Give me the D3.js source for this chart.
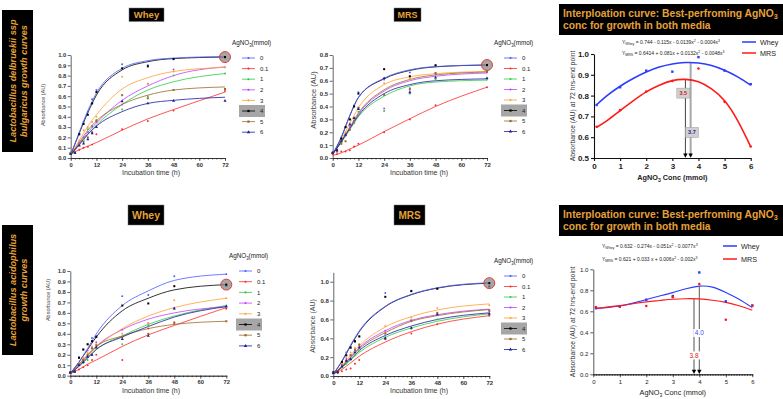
<!DOCTYPE html>
<html>
<head>
<meta charset="utf-8">
<script src="https://cdn.jsdelivr.net/npm/d3@7"></script>
<style>
  body { margin: 0; background: #fff; }
  svg { font-family: "Liberation Sans", Arial, sans-serif; }
</style>
</head>
<body>
<svg id="fig" width="783" height="399"></svg>
<script>
// ---- data ----
const concLabels = ["0", "0.1", "1", "2", "3", "4", "5", "6"];
const seriesColors = ["#4a5cff", "#ff2a2a", "#2ecc40", "#c040ff", "#ffa030", "#000000", "#9a6a2a", "#1c1ca0"];
const obsTimes = [0, 2, 4, 6, 8, 10, 12, 24, 36, 48, 72];
const fitTimes = [0, 4, 8, 12, 24, 36, 48, 72];
const timeTicks = [0, 12, 24, 36, 48, 60, 72];
// curves are drawn in this order so the blue "0" curve sits on top of the black "4" one
const drawOrder = [1, 2, 3, 4, 6, 7, 5, 0];

// L. bulgaricus, whey
const lbWheyFit = [
  [0.03, 0.25, 0.46, 0.63, 0.87, 0.945, 0.97, 0.985],
  [0.04, 0.08, 0.115, 0.15, 0.27, 0.38, 0.47, 0.64],
  [0.03, 0.13, 0.23, 0.32, 0.52, 0.66, 0.74, 0.82],
  [0.03, 0.14, 0.25, 0.34, 0.56, 0.70, 0.80, 0.885],
  [0.03, 0.17, 0.31, 0.42, 0.67, 0.78, 0.84, 0.88],
  [0.03, 0.24, 0.44, 0.61, 0.855, 0.935, 0.965, 0.98],
  [0.03, 0.15, 0.27, 0.36, 0.52, 0.61, 0.66, 0.69],
  [0.03, 0.13, 0.23, 0.31, 0.45, 0.53, 0.56, 0.59]
];
const lbWheyObs = [
  [0.05, 0.06, 0.24, 0.35, 0.45, 0.57, 0.66, 0.91, 0.90, 0.965, 0.98],
  [0.05, 0.06, 0.08, 0.10, 0.11, 0.13, 0.23, 0.28, 0.36, 0.46, 0.65],
  [0.05, 0.05, 0.14, 0.18, 0.28, 0.30, 0.37, 0.47, 0.60, 0.80, 0.82],
  [0.04, 0.05, 0.15, 0.20, 0.25, 0.31, 0.35, 0.52, 0.72, 0.86, 0.88],
  [0.04, 0.06, 0.17, 0.27, 0.30, 0.35, 0.40, 0.79, 0.72, 0.84, 0.88],
  [0.04, 0.05, 0.23, 0.33, 0.42, 0.53, 0.64, 0.87, 0.89, 0.96, 0.975],
  [0.04, 0.05, 0.13, 0.16, 0.20, 0.25, 0.36, 0.61, 0.58, 0.66, 0.67],
  [0.04, 0.05, 0.12, 0.14, 0.18, 0.24, 0.30, 0.55, 0.53, 0.555, 0.555]
];

// L. bulgaricus, MRS
const lbMrsFit = [
  [0.03, 0.16, 0.33, 0.47, 0.62, 0.685, 0.71, 0.723],
  [0.02, 0.04, 0.07, 0.10, 0.205, 0.305, 0.40, 0.55],
  [0.03, 0.12, 0.22, 0.32, 0.48, 0.56, 0.59, 0.605],
  [0.03, 0.13, 0.23, 0.34, 0.52, 0.60, 0.635, 0.66],
  [0.03, 0.14, 0.27, 0.39, 0.57, 0.63, 0.655, 0.672],
  [0.03, 0.16, 0.33, 0.47, 0.615, 0.68, 0.708, 0.722],
  [0.03, 0.13, 0.24, 0.35, 0.53, 0.61, 0.645, 0.668],
  [0.03, 0.125, 0.23, 0.33, 0.50, 0.57, 0.60, 0.615]
];
const lbMrsObs = [
  [0.04, 0.06, 0.16, 0.24, 0.30, 0.41, 0.51, 0.61, 0.665, 0.72, 0.72],
  [0.03, 0.03, 0.05, 0.05, 0.06, 0.09, 0.11, 0.20, 0.30, 0.41, 0.55],
  [0.04, 0.06, 0.12, 0.17, 0.22, 0.27, 0.36, 0.365, 0.50, 0.61, 0.61],
  [0.04, 0.06, 0.13, 0.18, 0.24, 0.28, 0.38, 0.385, 0.53, 0.65, 0.665],
  [0.04, 0.06, 0.14, 0.20, 0.27, 0.31, 0.39, 0.58, 0.62, 0.66, 0.67],
  [0.04, 0.06, 0.15, 0.24, 0.30, 0.40, 0.50, 0.69, 0.635, 0.72, 0.72],
  [0.04, 0.05, 0.11, 0.13, 0.22, 0.29, 0.39, 0.49, 0.54, 0.66, 0.67],
  [0.04, 0.06, 0.13, 0.18, 0.26, 0.31, 0.38, 0.62, 0.51, 0.625, 0.62]
];

// L. acidophilus, whey
const laWheyFit = [
  [0.02, 0.13, 0.26, 0.40, 0.67, 0.81, 0.91, 0.97],
  [0.02, 0.06, 0.11, 0.15, 0.28, 0.39, 0.48, 0.65],
  [0.02, 0.09, 0.17, 0.25, 0.38, 0.49, 0.57, 0.67],
  [0.02, 0.10, 0.19, 0.28, 0.44, 0.54, 0.60, 0.66],
  [0.02, 0.10, 0.19, 0.27, 0.45, 0.57, 0.65, 0.74],
  [0.02, 0.13, 0.25, 0.37, 0.62, 0.74, 0.82, 0.87],
  [0.02, 0.11, 0.20, 0.28, 0.38, 0.45, 0.49, 0.52],
  [0.02, 0.09, 0.17, 0.25, 0.37, 0.47, 0.56, 0.66]
];
const laWheyObs = [
  [0.03, 0.04, 0.18, 0.25, 0.30, 0.36, 0.38, 0.76, 0.77, 0.95, 0.97],
  [0.03, 0.04, 0.06, 0.08, 0.10, 0.15, 0.20, 0.15, 0.45, 0.51, 0.64],
  [0.03, 0.04, 0.10, 0.12, 0.15, 0.20, 0.26, 0.30, 0.48, 0.64, 0.67],
  [0.03, 0.04, 0.12, 0.16, 0.24, 0.27, 0.32, 0.44, 0.50, 0.65, 0.66],
  [0.03, 0.04, 0.12, 0.17, 0.22, 0.28, 0.30, 0.40, 0.50, 0.72, 0.74],
  [0.03, 0.04, 0.17, 0.25, 0.30, 0.33, 0.37, 0.67, 0.69, 0.855, 0.86],
  [0.03, 0.04, 0.11, 0.15, 0.20, 0.26, 0.29, 0.37, 0.40, 0.50, 0.52],
  [0.03, 0.04, 0.10, 0.13, 0.18, 0.20, 0.27, 0.35, 0.38, 0.64, 0.66]
];

// L. acidophilus, MRS
const laMrsFit = [
  [0.02, 0.16, 0.33, 0.48, 0.74, 0.866, 0.936, 0.99],
  [0.02, 0.07, 0.14, 0.21, 0.36, 0.47, 0.55, 0.64],
  [0.02, 0.09, 0.17, 0.25, 0.41, 0.51, 0.58, 0.66],
  [0.02, 0.10, 0.20, 0.30, 0.48, 0.59, 0.65, 0.71],
  [0.02, 0.11, 0.22, 0.32, 0.52, 0.63, 0.70, 0.765],
  [0.02, 0.155, 0.32, 0.47, 0.735, 0.862, 0.932, 0.985],
  [0.02, 0.10, 0.20, 0.29, 0.46, 0.58, 0.64, 0.705],
  [0.02, 0.095, 0.18, 0.27, 0.43, 0.53, 0.60, 0.67]
];
const laMrsObs = [
  [0.04, 0.05, 0.14, 0.25, 0.31, 0.36, 0.42, 0.88, 0.905, 0.93, 0.95],
  [0.03, 0.03, 0.05, 0.07, 0.08, 0.13, 0.17, 0.39, 0.45, 0.55, 0.64],
  [0.03, 0.04, 0.09, 0.13, 0.17, 0.22, 0.27, 0.41, 0.50, 0.60, 0.66],
  [0.03, 0.05, 0.12, 0.18, 0.22, 0.27, 0.31, 0.48, 0.58, 0.66, 0.70],
  [0.03, 0.05, 0.13, 0.20, 0.25, 0.30, 0.34, 0.53, 0.62, 0.72, 0.75],
  [0.04, 0.05, 0.15, 0.22, 0.30, 0.37, 0.42, 0.84, 0.90, 0.925, 0.95],
  [0.03, 0.05, 0.11, 0.16, 0.22, 0.28, 0.33, 0.45, 0.59, 0.67, 0.69],
  [0.03, 0.04, 0.10, 0.16, 0.18, 0.25, 0.30, 0.40, 0.51, 0.65, 0.66]
];

// interpolation panels: end point (72 h) absorbance vs AgNO3
const endConc = [0.1, 1, 2, 3, 4, 5, 6];
const lbWheyEnd = [0.755, 0.84, 0.92, 0.915, 0.985, 0.92, 0.855];
const lbMrsEnd = [0.65, 0.73, 0.82, 0.87, 0.93, 0.77, 0.555];
const laWheyEnd = [0.63, 0.645, 0.71, 0.745, 0.97, 0.695, 0.655];
const laMrsEnd = [0.64, 0.645, 0.65, 0.735, 0.86, 0.52, 0.655];

const curveConc = [0.1, 0.5, 1, 1.5, 2, 2.5, 3, 3.5, 4, 4.5, 5, 5.5, 6];
const lbWheyCurve = [0.756, 0.80, 0.845, 0.882, 0.913, 0.937, 0.952, 0.959, 0.957, 0.945, 0.922, 0.89, 0.85];
const lbMrsCurve = [0.648, 0.68, 0.728, 0.775, 0.818, 0.85, 0.872, 0.878, 0.866, 0.832, 0.775, 0.68, 0.555];
const laWheyCurve = [0.628, 0.635, 0.65, 0.678, 0.712, 0.745, 0.778, 0.815, 0.84, 0.83, 0.78, 0.715, 0.635];
const laMrsCurve = [0.625, 0.64, 0.655, 0.672, 0.69, 0.703, 0.715, 0.72, 0.718, 0.705, 0.685, 0.652, 0.61];

const gold = "#e5a13a";
const svg = d3.select("#fig");

// text with sub/superscripts: parts = [[string, "sub"|"sup"|""]]
function richText(t, parts, fs) {
  let prev = "";
  parts.forEach(([s, kind]) => {
    const sp = t.append("tspan").text(s);
    let dy = 0;
    if (prev === "sub") dy -= fs * 0.25;
    if (prev === "sup") dy += fs * 0.35;
    if (kind === "sub") { sp.attr("font-size", fs * 0.7); dy += fs * 0.25; }
    if (kind === "sup") { sp.attr("font-size", fs * 0.7); dy -= fs * 0.35; }
    if (dy) sp.attr("dy", dy);
    prev = kind;
  });
}

function titleBox(x, y, w, h, label, fs) {
  svg.append("rect").attr("x", x).attr("y", y).attr("width", w).attr("height", h)
    .attr("fill", "#000").attr("stroke", "#777").attr("stroke-width", 0.5);
  svg.append("text").attr("x", x + w / 2).attr("y", y + h / 2).attr("dy", "0.36em")
    .attr("text-anchor", "middle").attr("font-weight", "bold").attr("font-size", fs)
    .attr("fill", gold).text(label);
}

function sideBox(x, y, w, h, lines) {
  svg.append("rect").attr("x", x).attr("y", y).attr("width", w).attr("height", h).attr("fill", "#000");
  lines.forEach((s, i) => {
    svg.append("text")
      .attr("transform", `translate(${x + 10.5 + i * 11.5},${y + h / 2}) rotate(-90)`)
      .attr("dy", "0.36em").attr("text-anchor", "middle")
      .attr("font-size", 9.2).attr("font-weight", "bold").attr("font-style", "italic")
      .attr("fill", gold).text(s);
  });
}

const symbolTypes = [d3.symbolCircle, d3.symbolCircle, d3.symbolCircle, d3.symbolCircle,
  d3.symbolCircle, d3.symbolSquare, d3.symbolSquare, d3.symbolTriangle];

function drawGrowth(c) {
  const g = svg.append("g");
  const x = d3.scaleLinear().domain([0, 72]).range([c.x0, c.x1]);
  const y = d3.scaleLinear().domain(c.yDomain).range([c.y0, c.y1]);

  g.append("g").attr("transform", `translate(0,${c.y0})`)
    .call(d3.axisBottom(x).tickValues(d3.range(0, 73, 2)).tickSize(1.5).tickFormat("").tickSizeOuter(0));
  g.append("g").attr("transform", `translate(0,${c.y0})`)
    .call(d3.axisBottom(x).tickValues(timeTicks).tickSize(3).tickPadding(1.5).tickSizeOuter(0))
    .selectAll("text").attr("font-size", c.tickFs).attr("font-weight", "bold").attr("fill", "#333");
  g.append("g").attr("transform", `translate(${c.x0},0)`)
    .call(d3.axisLeft(y).tickValues(c.yTicks).tickFormat(d3.format(".1f")).tickSize(3).tickPadding(1.5).tickSizeOuter(0))
    .selectAll("text").attr("font-size", c.tickFs).attr("font-weight", "bold").attr("fill", "#333");
  g.selectAll(".domain, .tick line").attr("stroke", "#222").attr("stroke-width", 0.7);

  g.append("text").attr("x", c.xLabelX).attr("y", c.y0 + 17).attr("text-anchor", "middle")
    .attr("font-size", 7).attr("fill", "#333").text("Incubation time (h)");
  g.append("text").attr("transform", `translate(${c.yLabelX},${c.yLabelY}) rotate(-90)`)
    .attr("text-anchor", "middle").attr("dy", "0.35em")
    .attr("font-size", c.yLabelFs).attr("fill", "#444").text("Absorbance (AU)");

  const line = d3.line().x((d, i) => x(fitTimes[i])).y(d => y(d)).curve(d3.curveMonotoneX);
  drawOrder.forEach(k => {
    g.append("path").attr("d", line(c.fit[k])).attr("fill", "none")
      .attr("stroke", seriesColors[k]).attr("stroke-width", 0.8);
  });
  c.obs.forEach((s, k) => {
    g.selectAll(null).data(s).join("path")
      .attr("transform", (d, i) => `translate(${x(obsTimes[i])},${y(d)})`)
      .attr("d", d3.symbol(symbolTypes[k], k > 4 ? 4 : 3))
      .attr("fill", seriesColors[k]);
  });

  // highlighted best end point
  g.append("circle").attr("cx", x(72)).attr("cy", y(c.fit[5][7])).attr("r", 5.5)
    .attr("fill", "#888").attr("fill-opacity", 0.75).attr("stroke", "#e03030").attr("stroke-width", 0.9);
  g.append("path").attr("transform", `translate(${x(72)},${y(c.fit[5][7])})`)
    .attr("d", d3.symbol(d3.symbolSquare, 4)).attr("fill", "#000");

  // legend
  const lt = g.append("text").attr("x", c.legX).attr("y", c.legY).attr("dy", "0.35em")
    .attr("font-size", 6.3).attr("fill", "#222");
  richText(lt, [["AgNO", ""], ["3", "sub"], ["(mmol)", ""]], 6.3);
  concLabels.forEach((lab, k) => {
    const ly = c.legY + 15 + k * c.legStep;
    const lx = c.legX + 10;
    if (k === 5) {
      g.append("rect").attr("x", lx - 3).attr("y", ly - 6).attr("width", 26).attr("height", 12)
        .attr("fill", "#a6a6a6");
    }
    g.append("line").attr("x1", lx).attr("x2", lx + 13).attr("y1", ly).attr("y2", ly)
      .attr("stroke", seriesColors[k]).attr("stroke-width", 0.8);
    g.append("path").attr("transform", `translate(${lx + 6.5},${ly})`)
      .attr("d", d3.symbol(symbolTypes[k], k > 4 ? 5 : 3.5)).attr("fill", seriesColors[k]);
    g.append("text").attr("x", lx + 18).attr("y", ly).attr("dy", "0.35em")
      .attr("font-size", 6).attr("fill", "#222").text(lab);
  });
}

function drawInterp(c) {
  const g = svg.append("g");
  const x = d3.scaleLinear().domain([0, 6]).range([c.x0, c.x1]);
  const y = d3.scaleLinear().domain(c.yDomain).range([c.y0, c.y1]);

  if (c.minor) {
    g.append("g").attr("transform", `translate(0,${c.y0})`)
      .call(d3.axisBottom(x).tickValues(d3.range(0, 60.5, 1).map(v => v / 10)).tickSize(1.5).tickFormat("").tickSizeOuter(0));
  }
  g.append("g").attr("transform", `translate(0,${c.y0})`)
    .call(d3.axisBottom(x).tickValues(d3.range(0, 7)).tickFormat(d3.format("d")).tickSize(3).tickPadding(2).tickSizeOuter(0))
    .selectAll("text").attr("font-size", c.tickFs).attr("font-weight", c.bold ? "bold" : "normal").attr("fill", "#222");
  g.append("g").attr("transform", `translate(${c.x0},0)`)
    .call(d3.axisLeft(y).tickValues(c.yTicks).tickFormat(d3.format(".1f")).tickSize(3).tickPadding(2).tickSizeOuter(0))
    .selectAll("text").attr("font-size", c.tickFs).attr("font-weight", c.bold ? "bold" : "normal").attr("fill", "#222");
  g.selectAll(".domain, .tick line").attr("stroke", "#111").attr("stroke-width", c.bold ? 1.1 : 0.7);

  const xl = g.append("text").attr("x", (c.x0 + c.x1) / 2).attr("y", c.xLabelY).attr("text-anchor", "middle")
    .attr("font-size", 7.3).attr("font-weight", c.bold ? "bold" : "normal").attr("fill", "#222");
  richText(xl, [["AgNO", ""], ["3", "sub"], [" Conc (mmol)", ""]], 7.3);
  g.append("text").attr("transform", `translate(${c.yLabelX},${(c.y0 + c.y1) / 2}) rotate(-90)`)
    .attr("text-anchor", "middle").attr("dy", "0.35em").attr("font-size", 6.8).attr("fill", "#333")
    .text("Absorbance (AU) at 72 hrs-end point");

  // vertical read-off lines
  c.marks.forEach(m => {
    g.append("line").attr("x1", x(m.at)).attr("x2", x(m.at)).attr("y1", y(m.top)).attr("y2", c.y0 - 3)
      .attr("stroke", m.stroke).attr("stroke-width", m.width);
    g.append("path")
      .attr("d", `M${x(m.at) - 2.2},${c.y0 - 4.5}L${x(m.at) + 2.2},${c.y0 - 4.5}L${x(m.at)},${c.y0 - 0.3}Z`)
      .attr("fill", "#000");
  });

  const line = d3.line().x((d, i) => x(curveConc[i])).y(d => y(d)).curve(d3.curveNatural);
  [[c.wheyCurve, "#2a3cff"], [c.mrsCurve, "#ff1a1a"]].forEach(([s, col]) => {
    g.append("path").attr("d", line(s)).attr("fill", "none").attr("stroke", col).attr("stroke-width", c.bold ? 1.6 : 1.1);
  });
  g.selectAll(null).data(c.wheyEnd).join("rect")
    .attr("x", (d, i) => x(endConc[i]) - 1.2).attr("y", d => y(d) - 1.2)
    .attr("width", 2.4).attr("height", 2.4).attr("fill", "#2a3cff");
  g.selectAll(null).data(c.mrsEnd).join("circle")
    .attr("cx", (d, i) => x(endConc[i])).attr("cy", d => y(d)).attr("r", 1.3).attr("fill", "#ff1a1a");

  // value labels
  c.labels.forEach(l => {
    if (l.box) {
      g.append("rect").attr("x", x(l.at) - 6.5).attr("y", y(l.v) - 5).attr("width", 13).attr("height", 10)
        .attr("fill", "#d0d0d0").attr("stroke", "#9a9a9a").attr("stroke-width", 0.5);
    } else {
      g.append("rect").attr("x", x(l.at) - 6).attr("y", y(l.v) - 4).attr("width", 12).attr("height", 8)
        .attr("fill", "#fff");
    }
    g.append("text").attr("x", x(l.at)).attr("y", y(l.v)).attr("dy", "0.36em").attr("text-anchor", "middle")
      .attr("font-size", l.box ? 5.5 : 6.5).attr("font-weight", l.box ? "bold" : "normal")
      .attr("fill", l.color).text(l.text);
  });

  // equations + legend
  c.eqs.forEach((parts, i) => {
    const t = g.append("text").attr("x", c.eqX).attr("y", c.eqY + i * c.eqStep).attr("dy", "0.35em")
      .attr("font-size", 5).attr("fill", "#222");
    richText(t, parts, 5);
  });
  [["Whey", "#2a3cff"], ["MRS", "#ff1a1a"]].forEach(([lab, col], i) => {
    const ly = c.eqY + i * c.eqStep;
    g.append("line").attr("x1", c.legX).attr("x2", c.legX + 14).attr("y1", ly).attr("y2", ly)
      .attr("stroke", col).attr("stroke-width", 1.5);
    g.append("text").attr("x", c.legX + 18).attr("y", ly).attr("dy", "0.35em")
      .attr("font-size", 7.2).attr("fill", "#222").text(lab);
  });
}

// ---- layout ----
sideBox(2, 10, 31, 142, ["Lactobacillus delbruekii ssp", "bulgaricus  growth curves"]);
sideBox(2, 225, 31, 130, ["Lactobacillus acidophilus", "growth curves"]);

titleBox(129, 8, 35, 13.5, "Whey", 9.5);
titleBox(394, 8, 27, 13.5, "MRS", 9);
titleBox(128, 205, 36, 20, "Whey", 10.5);
titleBox(394, 205, 31, 20, "MRS", 10);

drawGrowth({
  x0: 70.7, x1: 225, y0: 158, y1: 55, yDomain: [0, 1], yTicks: d3.range(0, 10.5, 1).map(v => v / 10),
  fit: lbWheyFit, obs: lbWheyObs, tickFs: 5.8, xLabelX: 151, yLabelX: 43, yLabelY: 105, yLabelFs: 5.5,
  legX: 232, legY: 43, legStep: 10.6
});
drawGrowth({
  x0: 332.7, x1: 487, y0: 158, y1: 55, yDomain: [0, 0.8], yTicks: d3.range(0, 8.5, 1).map(v => v / 10),
  fit: lbMrsFit, obs: lbMrsObs, tickFs: 6, xLabelX: 419, yLabelX: 313, yLabelY: 100, yLabelFs: 7.5,
  legX: 494, legY: 43, legStep: 10.5
});
drawGrowth({
  x0: 70.3, x1: 226.3, y0: 375.7, y1: 271, yDomain: [0, 1], yTicks: d3.range(0, 10.5, 1).map(v => v / 10),
  fit: laWheyFit, obs: laWheyObs, tickFs: 5.8, xLabelX: 151, yLabelX: 48, yLabelY: 300, yLabelFs: 5.5,
  legX: 229, legY: 256, legStep: 10.7
});
drawGrowth({
  x0: 333.3, x1: 489.3, y0: 376, y1: 272.3, yDomain: [0, 1.1], yTicks: [0, 0.2, 0.4, 0.6, 0.8, 1.0],
  fit: laMrsFit, obs: laMrsObs, tickFs: 6, xLabelX: 419, yLabelX: 313, yLabelY: 326, yLabelFs: 7,
  legX: 494, legY: 261, legStep: 10.5
});

// interpolation panels
function interpTitle(y) {
  svg.append("rect").attr("x", 559).attr("y", y).attr("width", 224).attr("height", 31).attr("fill", "#000");
  const t1 = svg.append("text").attr("x", 563).attr("y", y + 12.5).attr("font-size", 10.3)
    .attr("font-weight", "bold").attr("fill", gold);
  richText(t1, [["Interploation curve: Best-perfroming AgNO", ""], ["3", "sub"]], 10.3);
  svg.append("text").attr("x", 563).attr("y", y + 25).attr("font-size", 10.3)
    .attr("font-weight", "bold").attr("fill", gold).text("conc for growth in both media");
}
interpTitle(4);
interpTitle(205);

drawInterp({
  x0: 594, x1: 750.7, y0: 158, y1: 54, yDomain: [0.5, 1.0], yTicks: [0.5, 0.6, 0.7, 0.8, 0.9, 1.0],
  bold: true, minor: false, tickFs: 8, xLabelY: 180, yLabelX: 573,
  wheyCurve: lbWheyCurve, mrsCurve: lbMrsCurve, wheyEnd: lbWheyEnd, mrsEnd: lbMrsEnd,
  marks: [{ at: 3.5, top: 0.878, stroke: "#111", width: 0.8 }, { at: 3.7, top: 0.959, stroke: "#a8a8a8", width: 2 }],
  labels: [{ at: 3.42, v: 0.812, text: "3.5", color: "#d42020", box: true },
           { at: 3.75, v: 0.623, text: "3.7", color: "#2a2a90", box: true }],
  eqs: [[["Y", ""], ["Whey", "sub"], [" = 0.744 - 0.115x - 0.0139x", ""], ["2", "sup"], [" - 0.0004x", ""], ["3", "sup"]],
        [["Y", ""], ["MRS", "sub"], [" = 0.6414 + 0.081x + 0.0132x", ""], ["2", "sup"], [" - 0.0048x", ""], ["3", "sup"]]],
  eqX: 622, eqY: 42, eqStep: 11, legX: 742
});
drawInterp({
  x0: 593.3, x1: 752.3, y0: 374.3, y1: 269.3, yDomain: [0, 1.0], yTicks: [0, 0.2, 0.4, 0.6, 0.8, 1.0],
  bold: false, minor: true, tickFs: 6, xLabelY: 395, yLabelX: 573,
  wheyCurve: laWheyCurve, mrsCurve: laMrsCurve, wheyEnd: laWheyEnd, mrsEnd: laMrsEnd,
  marks: [{ at: 3.8, top: 0.72, stroke: "#a8a8a8", width: 2 }, { at: 4.0, top: 0.84, stroke: "#111", width: 0.7 }],
  labels: [{ at: 3.8, v: 0.18, text: "3.8", color: "#e02020", box: false },
           { at: 4.0, v: 0.393, text: "4.0", color: "#3a4cff", box: false }],
  eqs: [[["Y", ""], ["Whey", "sub"], [" = 0.632 - 0.274x - 0.051x", ""], ["2", "sup"], [" - 0.0077x", ""], ["3", "sup"]],
        [["Y", ""], ["MRS", "sub"], [" = 0.621 + 0.033 x + 0.006x", ""], ["2", "sup"], [" - 0.002x", ""], ["3", "sup"]]],
  eqX: 602, eqY: 246, eqStep: 13, legX: 723
});
</script>
</body>
</html>
